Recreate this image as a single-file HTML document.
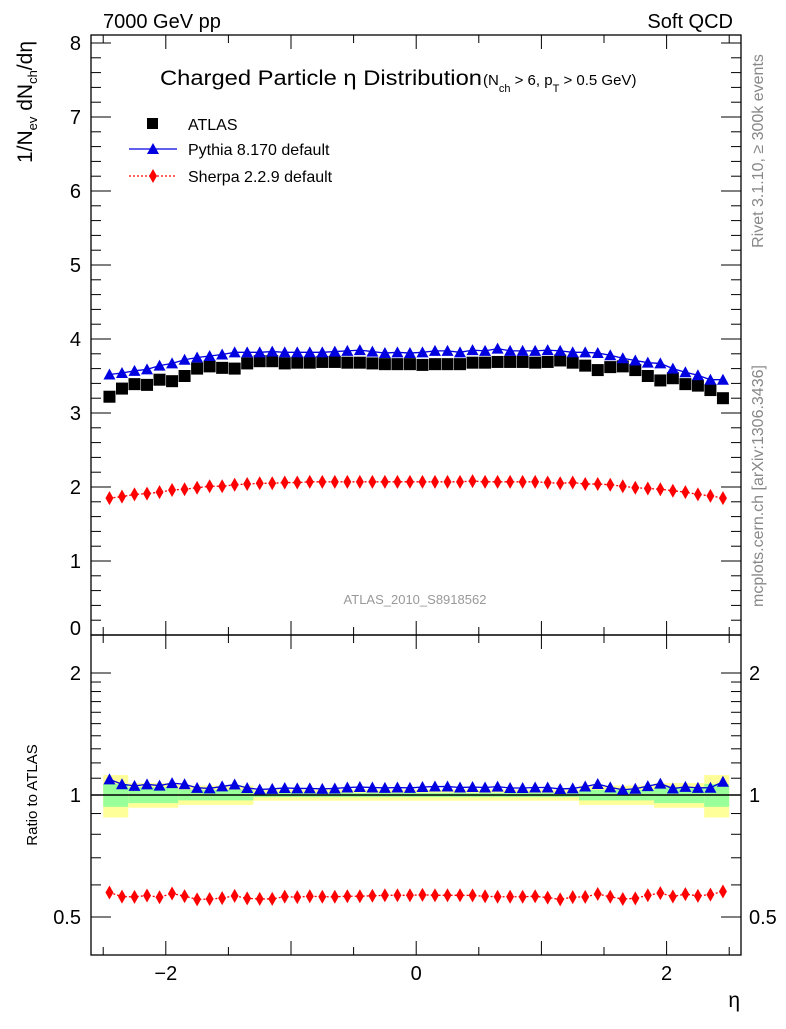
<!DOCTYPE html>
<html><head><meta charset="utf-8"><style>
body{margin:0;background:#fff}
svg text{font-family:"Liberation Sans",sans-serif}
</style></head><body>
<svg id="c" width="786" height="1024" viewBox="0 0 786 1024" xmlns="http://www.w3.org/2000/svg">
<g id="bands"></g><g id="axes"></g><g id="marks"></g>
<text x="103" y="28" font-size="20">7000 GeV pp</text>
<text x="733" y="28" font-size="20" text-anchor="end">Soft QCD</text>
<text x="160" y="85" font-size="21" textLength="322" lengthAdjust="spacingAndGlyphs">Charged Particle η Distribution</text>
<text x="483" y="85" font-size="15">(N<tspan font-size="11" dy="7">ch</tspan><tspan dy="-7"> &gt; 6, p</tspan><tspan font-size="11" dy="7">T</tspan><tspan dy="-7"> &gt; 0.5 GeV)</tspan></text>
<g>
<rect x="147" y="118" width="11" height="11" fill="#000"/>
<text x="188" y="130" font-size="16">ATLAS</text>
<line x1="129" y1="149" x2="177" y2="149" stroke="#0000e0" stroke-width="1.3"/>
<polygon points="153,143 159,154 147,154" fill="#0000e0"/>
<text x="188" y="155" font-size="16">Pythia 8.170 default</text>
<line x1="129" y1="176" x2="177" y2="176" stroke="#f00" stroke-width="1.3" stroke-dasharray="2,2"/>
<polygon points="153,169 157,176 153,183 149,176" fill="#f00"/>
<text x="188" y="182" font-size="16">Sherpa 2.2.9 default</text>
</g>
<text x="415" y="604" font-size="13" fill="#999" text-anchor="middle">ATLAS_2010_S8918562</text>
<text transform="translate(32,102) rotate(-90)" font-size="21" text-anchor="middle">1/N<tspan font-size="13" dy="5">ev</tspan><tspan dy="-5"> dN</tspan><tspan font-size="13" dy="5">ch</tspan><tspan dy="-5">/dη</tspan></text>
<text transform="translate(37,795) rotate(-90)" font-size="15" text-anchor="middle">Ratio to ATLAS</text>
<text x="740" y="1007" font-size="21" text-anchor="end">η</text>
<text transform="translate(763,151) rotate(-90)" font-size="16" fill="#888" text-anchor="middle">Rivet 3.1.10, ≥ 300k events</text>
<text transform="translate(763,486) rotate(-90)" font-size="16" fill="#888" text-anchor="middle">mcplots.cern.ch [arXiv:1306.3436]</text>
</svg>
<script>
const etaCenters=[-2.45,-2.35,-2.25,-2.15,-2.05,-1.95,-1.85,-1.75,-1.65,-1.55,-1.45,-1.35,-1.25,-1.15,-1.05,-0.95,-0.85,-0.75,-0.65,-0.55,-0.45,-0.35,-0.25,-0.15,-0.05,0.05,0.15,0.25,0.35,0.45,0.55,0.65,0.75,0.85,0.95,1.05,1.15,1.25,1.35,1.45,1.55,1.65,1.75,1.85,1.95,2.05,2.15,2.25,2.35,2.45];
const atlas=[3.22,3.33,3.39,3.38,3.45,3.43,3.50,3.60,3.63,3.61,3.60,3.67,3.70,3.70,3.67,3.68,3.68,3.69,3.69,3.68,3.68,3.67,3.66,3.66,3.66,3.65,3.66,3.66,3.66,3.68,3.68,3.69,3.69,3.69,3.68,3.69,3.71,3.68,3.64,3.58,3.62,3.63,3.58,3.50,3.44,3.47,3.39,3.37,3.31,3.20];
const pythia=[3.52,3.54,3.57,3.59,3.64,3.67,3.72,3.75,3.77,3.79,3.82,3.82,3.82,3.83,3.82,3.82,3.82,3.82,3.83,3.84,3.85,3.83,3.81,3.82,3.81,3.82,3.84,3.84,3.82,3.85,3.84,3.87,3.84,3.84,3.84,3.85,3.84,3.82,3.82,3.81,3.78,3.74,3.71,3.68,3.67,3.60,3.55,3.51,3.45,3.45];
const sherpa=[1.85,1.87,1.90,1.91,1.93,1.96,1.97,1.99,2.01,2.01,2.03,2.04,2.05,2.05,2.06,2.06,2.07,2.07,2.07,2.07,2.07,2.07,2.07,2.07,2.07,2.07,2.07,2.07,2.07,2.08,2.07,2.07,2.07,2.07,2.07,2.06,2.05,2.06,2.04,2.04,2.03,2.01,1.99,1.98,1.97,1.95,1.93,1.90,1.88,1.85];
const bandEdges=[-2.5,-2.3,-1.9,-1.3,1.3,1.9,2.3,2.5];
const bandYellow=[0.12,0.07,0.055,0.032,0.055,0.07,0.12];
const bandGreen=[0.065,0.045,0.03,0.012,0.03,0.045,0.065];
const mainYTicks=[1,2,3,4,5,6,7,8];
const ratioYTicks=[0.5,1,2];
const xTicks=[-2,0,2];

const NS="http://www.w3.org/2000/svg";
const L=91,R=741,T=35,MB=635,RB=955;
const X=v=>416.2+v*125.2;
const Y=v=>635-v*74;
const YR=r=>795-122*Math.log2(r);
function mk(tag,at,parent){const e=document.createElementNS(NS,tag);for(const k in at)e.setAttribute(k,at[k]);document.getElementById(parent).appendChild(e);return e;}

for(let i=0;i<bandYellow.length;i++){
 const x1=X(bandEdges[i]),x2=X(bandEdges[i+1]);
 let e=mk('rect',{x:x1,y:YR(1+bandYellow[i]),width:x2-x1,height:YR(1-bandYellow[i])-YR(1+bandYellow[i]),fill:'#ffff99'},'bands');
 
 
 e=mk('rect',{x:x1,y:YR(1+bandGreen[i]),width:x2-x1,height:YR(1-bandGreen[i])-YR(1+bandGreen[i]),fill:'#99ff99'},'bands');
 
 
}
let f=mk('rect',{x:L,y:T,width:R-L,height:MB-T,fill:'none',stroke:'#000','stroke-width':1.3},'axes');


f=mk('rect',{x:L,y:MB,width:R-L,height:RB-MB,fill:'none',stroke:'#000','stroke-width':1.3},'axes');


let one=mk('line',{x1:L,x2:R,y1:YR(1),y2:YR(1),stroke:'#000','stroke-width':1.5},'axes');


for(let v=-2.5;v<=2.51;v+=0.5){
 const len=Math.abs(v-Math.round(v))<0.01?14:8;
 const x=X(v);
 for(const [y0,d] of [[T,1],[MB,-1],[MB,1],[RB,-1]]){
  mk('line',{x1:x,x2:x,y1:y0,y2:y0+d*len,stroke:'#000','stroke-width':1},'axes');
 }
}
for(const v of xTicks){
 const t=mk('text',{x:X(v),y:980,'font-size':20,'text-anchor':'middle'},'axes');
 t.textContent=v<0?'\u2212'+Math.abs(v):String(v);
 
 
}
for(let v=0;v<=8.01;v+=0.2){
 const major=Math.abs(v-Math.round(v))<0.01, len=major?20:10, y=Y(v);
 if(y<T)continue;
 mk('line',{x1:L,x2:L+len,y1:y,y2:y,stroke:'#000'},'axes');
 mk('line',{x1:R,x2:R-len,y1:y,y2:y,stroke:'#000'},'axes');
}
for(const v of mainYTicks){
 const t=mk('text',{x:81,y:Y(v)+7,'font-size':20,'text-anchor':'end'},'axes');
 t.textContent=v;
 
 
}
const zl=mk('text',{x:81,y:635,'font-size':20,'text-anchor':'end'},'axes');
zl.textContent='0';


const rminor=[0.4,0.5,0.6,0.7,0.8,0.9,1,2];
for(let k=1;k<=9;k++)rminor.push(1+k*0.1);
for(const r of rminor){
 const y=YR(r); if(y<MB||y>RB)continue;
 const len=ratioYTicks.includes(r)?20:10;
 mk('line',{x1:L,x2:L+len,y1:y,y2:y,stroke:'#000'},'axes');
 mk('line',{x1:R,x2:R-len,y1:y,y2:y,stroke:'#000'},'axes');
}
for(const r of ratioYTicks){
 for(const [x,a] of [[81,'end'],[749,'start']]){
  const t=mk('text',{x:x,y:YR(r)+7,'font-size':20,'text-anchor':a},'axes');
  t.textContent=r;
  
  
 }
}
// white mask so "0" label's lower half clipped like reference
const m=mk('rect',{x:60,y:636,width:28,height:12,fill:'#fff'},'axes');


function tri(x,y,c,nm){const e=mk('polygon',{points:`${x},${y-6} ${x+6},${y+5} ${x-6},${y+5}`,fill:c},'marks');}
function dia(x,y,c,nm){const e=mk('polygon',{points:`${x},${y-7} ${x+4},${y} ${x},${y+7} ${x-4},${y}`,fill:c},'marks');}
function line(pts,c,dash,nm){const e=mk('polyline',{points:pts.map(p=>p.join(',')).join(' '),fill:'none',stroke:c,'stroke-width':1.3,'stroke-dasharray':dash},'marks');}
line(etaCenters.map((e,i)=>[X(e),Y(pythia[i])]),'#0000e0','none','pythia-line');
line(etaCenters.map((e,i)=>[X(e),Y(sherpa[i])]),'#f00','2,2','sherpa-line');
line(etaCenters.map((e,i)=>[X(e),YR(pythia[i]/atlas[i])]),'#0000e0','none','pythia-ratio-line');
line(etaCenters.map((e,i)=>[X(e),YR(sherpa[i]/atlas[i])]),'#f00','2,2','sherpa-ratio-line');
etaCenters.forEach((e,i)=>{
 const s=mk('rect',{x:X(e)-6,y:Y(atlas[i])-6,width:12,height:12,fill:'#000'},'marks');
 
 
 tri(X(e),Y(pythia[i]),'#0000e0','pythia-point');
 dia(X(e),Y(sherpa[i]),'#f00','sherpa-point');
 tri(X(e),YR(pythia[i]/atlas[i]),'#0000e0','pythia-ratio-point');
 dia(X(e),YR(sherpa[i]/atlas[i]),'#f00','sherpa-ratio-point');
});
</script>
</body></html>
